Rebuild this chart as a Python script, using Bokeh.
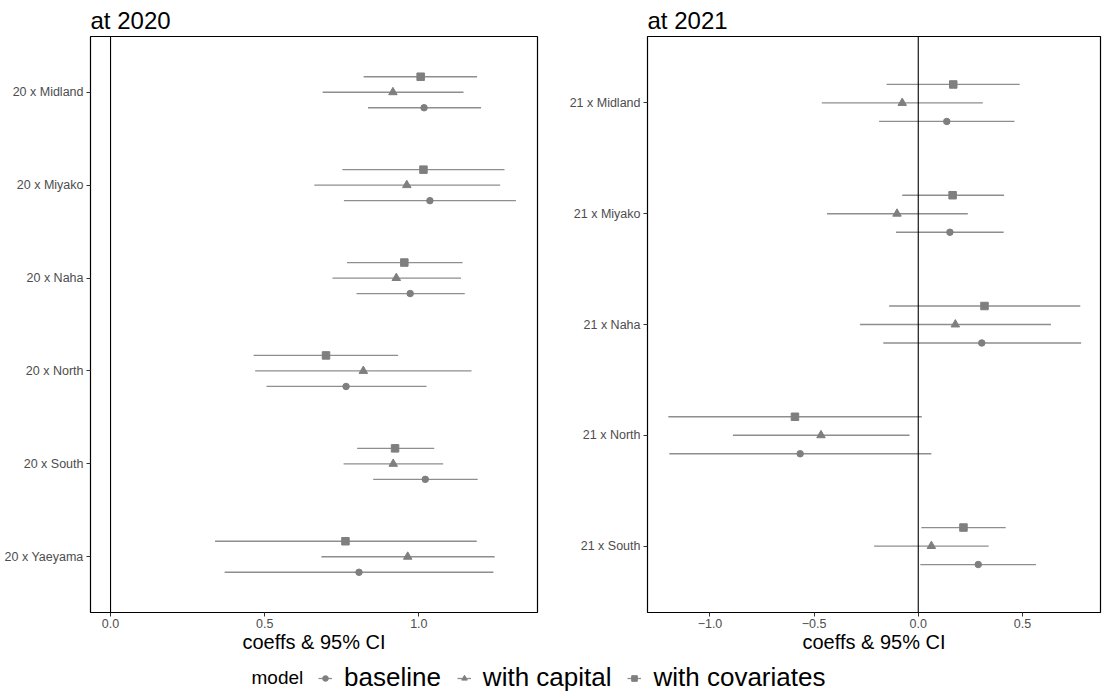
from bokeh.plotting import figure
from bokeh.models import (FactorRange, Range1d, FixedTicker, Span, Legend, LegendItem, Label,
                          ColumnDataSource)
from bokeh.transform import dodge
from bokeh.layouts import column, row
from bokeh.embed import file_html
from bokeh.resources import INLINE

FONT = "Liberation Sans"
NAN = float("nan")

# ---------------- data ----------------
models = ["baseline", "with capital", "with covariates"]

regions_2020 = ["Midland", "Miyako", "Naha", "North", "South", "Yaeyama"]
cats_2020 = ["20 x " + r for r in regions_2020]
baseline_2020_est = [1.017, 1.036, 0.972, 0.764, 1.021, 0.806]
baseline_2020_lo = [0.835, 0.757, 0.798, 0.506, 0.852, 0.370]
baseline_2020_hi = [1.202, 1.315, 1.149, 1.025, 1.191, 1.242]
capital_2020_est = [0.916, 0.961, 0.927, 0.820, 0.917, 0.964]
capital_2020_lo = [0.688, 0.661, 0.720, 0.469, 0.756, 0.684]
capital_2020_hi = [1.145, 1.264, 1.137, 1.171, 1.079, 1.246]
covar_2020_est = [1.006, 1.015, 0.953, 0.699, 0.923, 0.762]
covar_2020_lo = [0.821, 0.752, 0.767, 0.464, 0.800, 0.339]
covar_2020_hi = [1.189, 1.278, 1.142, 0.933, 1.050, 1.188]

regions_2021 = ["Midland", "Miyako", "Naha", "North", "South"]
cats_2021 = ["21 x " + r for r in regions_2021]
baseline_2021_est = [0.137, 0.152, 0.305, -0.567, 0.288]
baseline_2021_lo = [-0.188, -0.107, -0.168, -1.195, 0.010]
baseline_2021_hi = [0.462, 0.410, 0.782, 0.063, 0.565]
capital_2021_est = [-0.077, -0.102, 0.178, -0.467, 0.063]
capital_2021_lo = [-0.463, -0.438, -0.280, -0.890, -0.212]
capital_2021_hi = [0.310, 0.238, 0.637, -0.042, 0.338]
covar_2021_est = [0.168, 0.165, 0.318, -0.592, 0.217]
covar_2021_lo = [-0.152, -0.077, -0.140, -1.200, 0.015]
covar_2021_hi = [0.487, 0.412, 0.778, 0.017, 0.420]

ticks_2020 = [0.0, 0.5, 1.0]
tick_labels_2020 = ["0.0", "0.5", "1.0"]
ticks_2021 = [-1.0, -0.5, 0.0, 0.5]
tick_labels_2021 = ["\u22121.0", "\u22120.5", "0.0", "0.5"]

# ---------------- style ----------------
markers = {"baseline": "circle", "with capital": "triangle", "with covariates": "square"}
msize = {"baseline": 6.5, "with capital": 8.5, "with covariates": 7.5}
offsets = {"baseline": -0.167, "with capital": 0.0, "with covariates": 0.167}
PT_COLOR = "#7f7f7f"
LN_COLOR = "#8e8e8e"


def panel(title, cats, series, xr, ticks, labels, width, mbl, mbr):
    p = figure(width=width, height=660, output_backend="svg", toolbar_location=None,
               y_range=FactorRange(factors=list(reversed(cats)), range_padding=0.1,
                                   range_padding_units="absolute"),
               x_range=Range1d(*xr), min_border_left=mbl, min_border_right=mbr,
               min_border_top=36, min_border_bottom=48)
    p.title.text = title
    p.title.text_font = FONT
    p.title.text_font_size = "24px"
    p.title.text_font_style = "normal"
    p.title.text_color = "black"
    p.title.standoff = 6
    p.grid.visible = False
    p.outline_line_color = "black"
    p.outline_line_width = 1.2
    p.outline_line_alpha = 1.0
    p.background_fill_color = "white"
    p.border_fill_color = "white"

    p.add_layout(Span(location=0, dimension="height", line_color="black", line_width=1.1))

    for m in models:
        est, lo, hi = series[m]
        src = ColumnDataSource(dict(cat=cats, est=est, lo=lo, hi=hi))
        yd = dodge("cat", offsets[m], range=p.y_range)
        p.segment(x0="lo", y0=yd, x1="hi", y1=yd, source=src, line_color=LN_COLOR, line_width=1.3)
        p.scatter(x="est", y=yd, source=src, marker=markers[m], size=msize[m],
                  fill_color=PT_COLOR, line_color=PT_COLOR)

    xa = p.xaxis[0]
    xa.ticker = FixedTicker(ticks=ticks)
    xa.major_label_overrides = {t: l for t, l in zip(ticks, labels)}
    xa.axis_label = "coeffs & 95% CI"
    xa.axis_label_text_font = FONT
    xa.axis_label_text_font_size = "20px"
    xa.axis_label_text_font_style = "normal"
    xa.axis_label_text_color = "black"
    xa.axis_label_standoff = 0
    xa.major_label_standoff = 2
    xa.minor_tick_line_color = None

    ya = p.yaxis[0]
    ya.major_label_standoff = 3
    for ax in (xa, ya):
        ax.axis_line_color = None
        ax.major_tick_in = 0
        ax.major_tick_out = 4
        ax.major_tick_line_color = "#333333"
        ax.major_label_text_font = FONT
        ax.major_label_text_font_size = "12.5px"
        ax.major_label_text_color = "#4d4d4d"
    return p


s2020 = {"baseline": (baseline_2020_est, baseline_2020_lo, baseline_2020_hi),
         "with capital": (capital_2020_est, capital_2020_lo, capital_2020_hi),
         "with covariates": (covar_2020_est, covar_2020_lo, covar_2020_hi)}
s2021 = {"baseline": (baseline_2021_est, baseline_2021_lo, baseline_2021_hi),
         "with capital": (capital_2021_est, capital_2021_lo, capital_2021_hi),
         "with covariates": (covar_2021_est, covar_2021_lo, covar_2021_hi)}

p1 = panel("at 2020", cats_2020, s2020, (-0.065, 1.385), ticks_2020, tick_labels_2020, 560, 90, 23)
p2 = panel("at 2021", cats_2021, s2021, (-1.30, 0.875), ticks_2021, tick_labels_2021, 542, 87, 2)

# ---------------- legend strip ----------------
lf = figure(width=1102, height=34, output_backend="svg", toolbar_location=None,
            x_range=Range1d(0, 1), y_range=Range1d(0, 1), min_border=0)
lf.axis.visible = False
lf.grid.visible = False
lf.outline_line_color = None

items = []
for m in models:
    # placeholder renderers (NaN => nothing drawn in the plot, only legend keys)
    rl = lf.line(x=[NAN], y=[NAN], line_color=LN_COLOR, line_width=1.3)
    rs = lf.scatter(x=[NAN], y=[NAN], marker=markers[m], fill_color=PT_COLOR, line_color=PT_COLOR)
    items.append(LegendItem(label=m, renderers=[rl, rs]))

leg = Legend(items=items, orientation="horizontal", location=(318, 1),
             glyph_width=14, glyph_height=14, label_standoff=12, spacing=16,
             padding=0, margin=0, border_line_color=None, background_fill_alpha=0,
             label_text_font=FONT, label_text_font_size="26px", label_text_color="black")
lf.add_layout(leg, "center")
lf.add_layout(Label(x=251, y=17, x_units="screen", y_units="screen", text="model",
                    text_font=FONT, text_font_size="19px", text_baseline="middle",
                    text_color="black"))

layout = column(row(p1, p2), lf)
open("out.html", "w").write(file_html(layout, INLINE))
